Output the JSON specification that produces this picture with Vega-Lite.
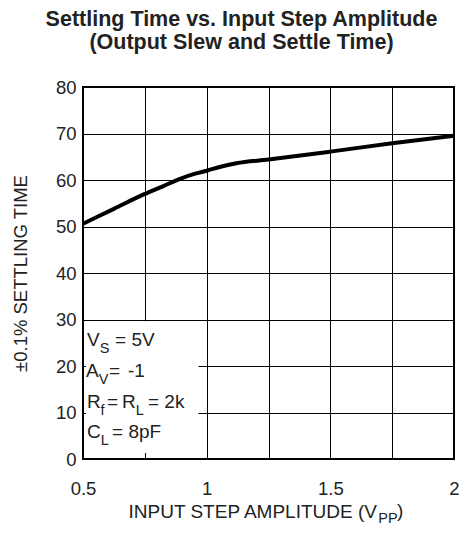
{
  "$schema": "https://vega.github.io/schema/vega-lite/v6.json",
  "width": 371,
  "height": 372,
  "autosize": "none",
  "padding": {"left": 83, "top": 87, "right": 12, "bottom": 74},
  "background": "white",
  "config": {
    "font": "Liberation Sans",
    "view": {"stroke": "#000", "strokeWidth": 2}
  },
  "title": {
    "text": ["Settling Time vs. Input Step Amplitude", "(Output Slew and Settle Time)"],
    "fontSize": 21.5,
    "fontWeight": "bold",
    "color": "#222",
    "anchor": "middle",
    "frame": "group",
    "dx": -27,
    "offset": 25,
    "lineHeight": 23
  },
  "datasets": {
    "curve": [
      {"x": 0.5, "y": 50.6},
      {"x": 0.625, "y": 53.8},
      {"x": 0.75, "y": 57.0},
      {"x": 0.825, "y": 58.7},
      {"x": 0.89, "y": 60.2},
      {"x": 0.95, "y": 61.3},
      {"x": 1.0, "y": 62.0},
      {"x": 1.06, "y": 62.9},
      {"x": 1.12, "y": 63.6},
      {"x": 1.25, "y": 64.4},
      {"x": 1.5, "y": 66.1},
      {"x": 1.75, "y": 67.9},
      {"x": 2.0, "y": 69.5}
    ],
    "box": [{"x": 0.512, "xEnd": 0.967, "y": 1.3, "yEnd": 29.6}],
    "mainText": [
      {"x": 0.5162, "y": 24.2, "t": "V"},
      {"x": 0.6294, "y": 24.2, "t": "= 5V"},
      {"x": 0.5121, "y": 17.7, "t": "A"},
      {"x": 0.6051, "y": 17.7, "t": "="},
      {"x": 0.6819, "y": 17.7, "t": "-1"},
      {"x": 0.5162, "y": 11.0, "t": "R"},
      {"x": 0.5970, "y": 11.0, "t": "="},
      {"x": 0.6577, "y": 11.0, "t": "R"},
      {"x": 0.7628, "y": 11.0, "t": "= 2k"},
      {"x": 0.5162, "y": 4.5, "t": "C"},
      {"x": 0.6173, "y": 4.5, "t": "= 8pF"}
    ],
    "subText": [
      {"x": 0.5675, "y": 22.7, "t": "S"},
      {"x": 0.5635, "y": 16.2, "t": "V"},
      {"x": 0.5708, "y": 9.5, "t": "f"},
      {"x": 0.7131, "y": 9.5, "t": "L"},
      {"x": 0.5716, "y": 3.0, "t": "L"}
    ],
    "xTitleSub": [{"x": 1.6936, "y": 0, "t": "PP"}],
    "xTitleEnd": [{"x": 1.770, "y": 0, "t": ")"}]
  },
  "layer": [
    {
      "data": {"name": "box"},
      "mark": {"type": "rect", "fill": "white", "stroke": null},
      "encoding": {
        "x": {
          "field": "x",
          "type": "quantitative",
          "scale": {"domain": [0.5, 2], "nice": false, "zero": false},
          "axis": {
            "values": [0.5, 0.75, 1, 1.25, 1.5, 1.75, 2],
            "format": "~g",
            "labelExpr": "(datum.value*2)%1==0 ? datum.label : ''",
            "grid": true,
            "gridColor": "#000",
            "gridWidth": 1,
            "ticks": false,
            "domain": false,
            "labelFontSize": 18.5,
            "labelColor": "#222",
            "labelPadding": 20,
            "labelFlush": false,
            "labelOverlap": false,
            "title": "INPUT STEP AMPLITUDE (V",
            "titleFontSize": 19,
            "titleFontWeight": "normal",
            "titleColor": "#222",
            "titleAlign": "left",
            "titleX": 45,
            "titleY": 58,
            "titleBaseline": "alphabetic"
          }
        },
        "x2": {"field": "xEnd"},
        "y": {
          "field": "y",
          "type": "quantitative",
          "scale": {"domain": [0, 80], "nice": false},
          "axis": {
            "values": [0, 10, 20, 30, 40, 50, 60, 70, 80],
            "grid": true,
            "gridColor": "#000",
            "gridWidth": 1,
            "ticks": false,
            "domain": false,
            "labelFontSize": 18.5,
            "labelColor": "#222",
            "labelPadding": 7,
            "labelOverlap": false,
            "title": "±0.1% SETTLING TIME",
            "titleFontSize": 18.5,
            "titleFontWeight": "normal",
            "titleColor": "#222",
            "titleX": -63,
            "titleBaseline": "middle"
          }
        },
        "y2": {"field": "yEnd"}
      }
    },
    {
      "data": {"name": "curve"},
      "mark": {"type": "line", "color": "#000", "strokeWidth": 4, "interpolate": "monotone"},
      "encoding": {
        "x": {"field": "x", "type": "quantitative"},
        "y": {"field": "y", "type": "quantitative"}
      }
    },
    {
      "data": {"name": "mainText"},
      "mark": {"type": "text", "align": "left", "baseline": "alphabetic", "fontSize": 19, "color": "#222"},
      "encoding": {
        "x": {"field": "x", "type": "quantitative"},
        "y": {"field": "y", "type": "quantitative"},
        "text": {"field": "t"}
      }
    },
    {
      "data": {"name": "subText"},
      "mark": {"type": "text", "align": "left", "baseline": "alphabetic", "fontSize": 14.5, "color": "#222"},
      "encoding": {
        "x": {"field": "x", "type": "quantitative"},
        "y": {"field": "y", "type": "quantitative"},
        "text": {"field": "t"}
      }
    },
    {
      "data": {"name": "xTitleSub"},
      "mark": {"type": "text", "align": "left", "baseline": "alphabetic", "fontSize": 14.5, "color": "#222", "dy": 64},
      "encoding": {
        "x": {"field": "x", "type": "quantitative"},
        "y": {"field": "y", "type": "quantitative"},
        "text": {"field": "t"}
      }
    },
    {
      "data": {"name": "xTitleEnd"},
      "mark": {"type": "text", "align": "left", "baseline": "alphabetic", "fontSize": 19, "color": "#222", "dy": 58},
      "encoding": {
        "x": {"field": "x", "type": "quantitative"},
        "y": {"field": "y", "type": "quantitative"},
        "text": {"field": "t"}
      }
    }
  ]
}
